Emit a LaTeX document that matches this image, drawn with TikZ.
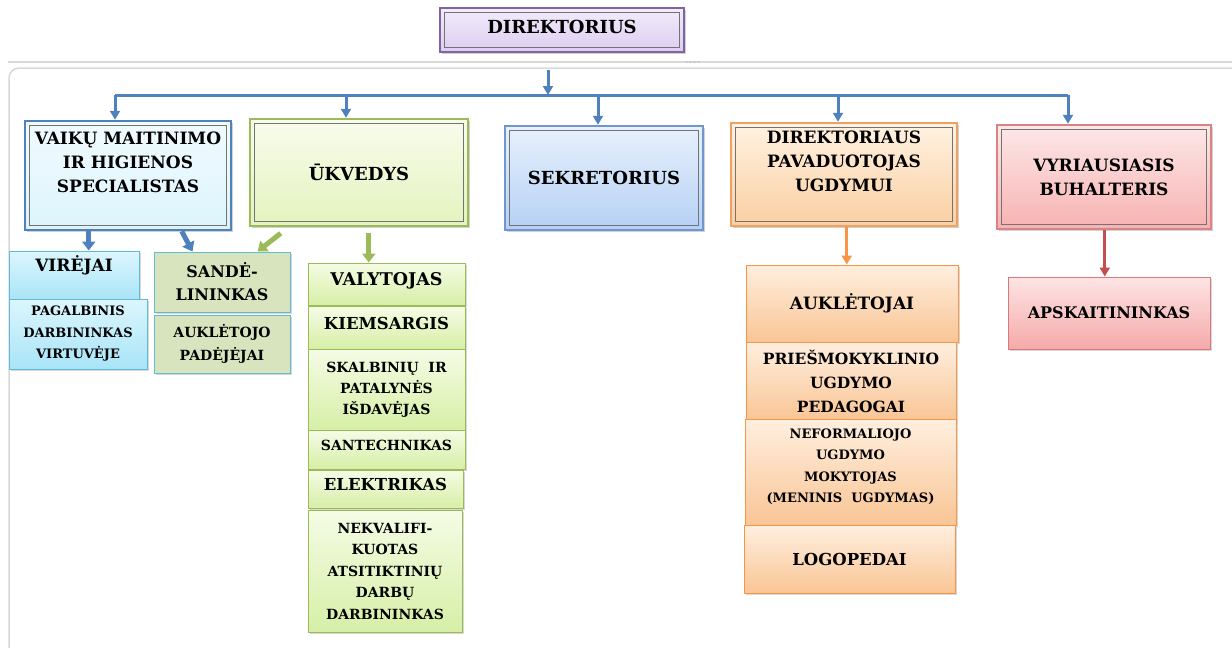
\documentclass[tikz,border=0pt]{standalone}
\usepackage{fontspec}
\setmainfont{DejaVu Serif}
\usetikzlibrary{arrows.meta,shadows,calc}

\definecolor{purpB}{HTML}{8064A2}
\definecolor{purpT}{HTML}{F3ECFB}
\definecolor{purpL}{HTML}{DCCDF0}
\definecolor{blueB}{HTML}{4F81BD}
\definecolor{cyanT}{HTML}{F0FBFF}
\definecolor{cyanL}{HTML}{DDF4FC}
\definecolor{greenB}{HTML}{9BBB59}
\definecolor{greenT}{HTML}{F8FCEC}
\definecolor{greenL}{HTML}{E4F3BE}
\definecolor{skyB}{HTML}{6F97CB}
\definecolor{skyT}{HTML}{E8F1FC}
\definecolor{skyL}{HTML}{B5D0F5}
\definecolor{orgB}{HTML}{F0A060}
\definecolor{orgT}{HTML}{FFF2E2}
\definecolor{orgL}{HTML}{FACFA2}
\definecolor{redB}{HTML}{D98484}
\definecolor{redT}{HTML}{FDE8E8}
\definecolor{redL}{HTML}{F7B2B2}
\definecolor{aquaB}{HTML}{62BBD5}
\definecolor{aquaT}{HTML}{DCF6FE}
\definecolor{aquaL}{HTML}{A8E4F7}
\definecolor{olive}{HTML}{D8E4BD}
\definecolor{limeT}{HTML}{F5FCE6}
\definecolor{limeL}{HTML}{D6EFA6}
\definecolor{peachB}{HTML}{F79646}
\definecolor{peachT}{HTML}{FFEFDF}
\definecolor{peachL}{HTML}{F9C595}
\definecolor{roseB}{HTML}{D9787A}
\definecolor{roseT}{HTML}{FDE4E4}
\definecolor{roseL}{HTML}{F6AAAA}
\definecolor{redA}{HTML}{C0504D}

\tikzset{
  head/.style={rectangle, line width=2.5pt, align=center, inner sep=2pt,
    drop shadow={shadow xshift=2pt,shadow yshift=-2pt,opacity=.35},
    font=\bfseries\fontsize{17}{24}\selectfont},
  sub/.style={rectangle, line width=1pt, align=center, inner sep=2pt,
    drop shadow={shadow xshift=2pt,shadow yshift=-2pt,opacity=.3},
    font=\bfseries\fontsize{15}{22}\selectfont},
  small/.style={font=\bfseries\fontsize{13}{21.5}\selectfont},
  innerline/.style={draw=black!55, line width=.8pt},
  mainline/.style={draw=blueB, line width=3pt},
  mainarr/.style={mainline, -{Triangle[width=10pt,length=9pt]}},
  fatarr/.style={line width=5pt, -{Triangle[width=13pt,length=9pt]}},
  thinarr/.style={line width=3pt, -{Triangle[width=10pt,length=9pt]}}
}

\begin{document}
\begin{tikzpicture}[x=1pt,y=-1pt]
\useasboundingbox[fill=white] (0,0) rectangle (1232,648);

% window frame
\draw[gray!30, line width=1.5pt] (8,62) -- (1232,62);
\draw[gray!30, line width=1.5pt, rounded corners=10pt] (9,648) -- (9,68) -- (1232,68);
\foreach \i in {0,1,2,3}
  \fill[gray!40] (685+\i*4,60.5) rectangle ++(2.5,2.5);

% top
\node[head, draw=purpB, top color=purpT, bottom color=purpL, minimum width=244pt,
  minimum height=44pt, text depth=7pt, font=\bfseries\fontsize{18}{24}\selectfont] (dir) at (562,30) {DIREKTORIUS};

\node[head, draw=blueB, top color=cyanT, bottom color=cyanL, minimum width=206pt,
  minimum height=109pt, text depth=27pt] (vaiku) at (128,175.5) {VAIKŲ MAITINIMO\\IR HIGIENOS\\SPECIALISTAS};
\node[head, draw=greenB, top color=greenT, bottom color=greenL, minimum width=218pt,
  minimum height=107pt, font=\bfseries\fontsize{18}{24}\selectfont] (ukvedys) at (359,172.5) {ŪKVEDYS};
\node[head, draw=skyB, top color=skyT, bottom color=skyL, minimum width=198pt,
  minimum height=104pt, font=\bfseries\fontsize{18}{24}\selectfont] (sekr) at (604,178) {SEKRETORIUS};
\node[head, draw=orgB, top color=orgT, bottom color=orgL, minimum width=226pt,
  minimum height=103pt, text depth=27pt] (pavad) at (844,174.5) {DIREKTORIAUS\\PAVADUOTOJAS\\UGDYMUI};
\node[head, draw=redB, top color=redT, bottom color=redL, minimum width=214pt,
  minimum height=104pt] (buh) at (1104,177) {VYRIAUSIASIS\\BUHALTERIS};

\foreach \n in {dir,vaiku,ukvedys,sekr,pavad,buh}
  \draw[innerline] ([shift={(6pt,-6pt)}]\n.north west) rectangle ([shift={(-6pt,6pt)}]\n.south east);

% kitchen side
\node[sub, draw=aquaB, top color=aquaT, bottom color=aquaL, minimum width=130pt,
  minimum height=49pt, text depth=24pt, font=\bfseries\fontsize{17}{22}\selectfont] (virejai) at (74,275.5) {VIRĖJAI};
\node[sub, small, draw=aquaB, top color=aquaT, bottom color=aquaL, minimum width=138pt,
  minimum height=70pt] (pagalb) at (78,334) {PAGALBINIS\\DARBININKAS\\VIRTUVĖJE};
\node[sub, draw=aquaB, fill=olive, minimum width=136pt, minimum height=60pt,
  font=\bfseries\fontsize{16}{23}\selectfont] (sande) at (222,282) {SANDĖ-\\LININKAS};
\node[sub, draw=aquaB, fill=olive, minimum width=136pt, minimum height=58pt,
  font=\bfseries\fontsize{14}{23}\selectfont] (aukpad) at (222,344) {AUKLĖTOJO\\PADĖJĖJAI};

% green stack
\node[sub, draw=greenB, top color=limeT, bottom color=limeL, minimum width=157pt,
  minimum height=42pt, text depth=10pt, font=\bfseries\fontsize{17.5}{22}\selectfont] (valyt) at (386.5,284) {VALYTOJAS};
\node[sub, draw=greenB, top color=limeT, bottom color=limeL, minimum width=157pt,
  minimum height=43pt, text depth=9pt, font=\bfseries\fontsize{16.5}{22}\selectfont] (kiems) at (386.5,327.5) {KIEMSARGIS};
\node[sub, draw=greenB, top color=limeT, bottom color=limeL, minimum width=157pt,
  minimum height=81pt, font=\bfseries\fontsize{14}{21}\selectfont] (skalb) at (386.5,389.5) {SKALBINIŲ~~IR\\PATALYNĖS\\IŠDAVĖJAS};
\node[sub, draw=greenB, top color=limeT, bottom color=limeL, minimum width=157pt,
  minimum height=39pt, text depth=9pt, font=\bfseries\fontsize{14}{21}\selectfont] (santech) at (386.5,449.5) {SANTECHNIKAS};
\node[sub, draw=greenB, top color=limeT, bottom color=limeL, minimum width=155pt,
  minimum height=38pt, text depth=9pt, font=\bfseries\fontsize{16.5}{21}\selectfont] (elektr) at (385.5,489) {ELEKTRIKAS};
\node[sub, draw=greenB, top color=limeT, bottom color=limeL, minimum width=154pt,
  minimum height=122pt, font=\bfseries\fontsize{14}{21.5}\selectfont] (nekv) at (385,571) {NEKVALIFI-\\KUOTAS\\ATSITIKTINIŲ\\DARBŲ\\DARBININKAS};

% orange stack
\node[sub, draw=peachB, top color=peachT, bottom color=peachL, minimum width=212pt,
  minimum height=77pt, font=\bfseries\fontsize{17}{24}\selectfont] (aukl) at (852,303.5) {AUKLĖTOJAI};
\node[sub, draw=peachB, top color=peachT, bottom color=peachL, minimum width=210pt,
  minimum height=78pt, font=\bfseries\fontsize{15.5}{24}\selectfont] (priesm) at (851,381) {PRIEŠMOKYKLINIO\\UGDYMO\\PEDAGOGAI};
\node[sub, small, draw=peachB, top color=peachT, bottom color=peachL, minimum width=211pt,
  minimum height=106pt, text depth=13pt] (neform) at (850.5,472) {NEFORMALIOJO\\UGDYMO\\MOKYTOJAS\\(MENINIS~~UGDYMAS)};
\node[sub, draw=peachB, top color=peachT, bottom color=peachL, minimum width=211pt,
  minimum height=68pt, font=\bfseries\fontsize{16.5}{24}\selectfont] (logop) at (849.5,559) {LOGOPEDAI};

% accounting
\node[sub, draw=roseB, top color=roseT, bottom color=roseL, minimum width=202pt,
  minimum height=72pt, font=\bfseries\fontsize{16}{24}\selectfont] (apsk) at (1109,313) {APSKAITININKAS};

% connectors
\coordinate (top) at (548,70);
\coordinate (bus) at (548,95);
\coordinate (t1) at (115,95);
\coordinate (t2) at (346,95);
\coordinate (t3) at (598,95);
\coordinate (t4) at (838,95);
\coordinate (t5) at (1068,95);
\draw[mainline] (t1) -- (t5);
\draw[mainarr] (top) -- (bus);
\draw[mainarr] (t1) -- (t1 |- vaiku.north);
\draw[mainarr] (t2) -- (t2 |- ukvedys.north);
\draw[mainarr] (t3) -- (t3 |- sekr.north);
\draw[mainarr] (t4) -- (t4 |- pavad.north);
\draw[mainarr] (t5) -- (t5 |- buh.north);

\draw[fatarr, blueB] ([xshift=65pt]vaiku.south west) coordinate (a1) -- (a1 |- virejai.north);
\draw[fatarr, blueB] ([xshift=158pt]vaiku.south west) -- ([xshift=39pt]sande.north west);
\draw[fatarr, greenB] ([xshift=32pt,yshift=-6pt]ukvedys.south west) -- ([xshift=104pt]sande.north west);
\draw[fatarr, greenB] ([xshift=120pt,yshift=-6pt]ukvedys.south west) coordinate (a4) -- (a4 |- valyt.north);
\draw[thinarr, peachB] ([xshift=117pt]pavad.south west) coordinate (a5) -- (a5 |- aukl.north);
\draw[thinarr, redA] ([xshift=109pt]buh.south west) coordinate (a6) -- (a6 |- apsk.north);
\end{tikzpicture}
\end{document}
